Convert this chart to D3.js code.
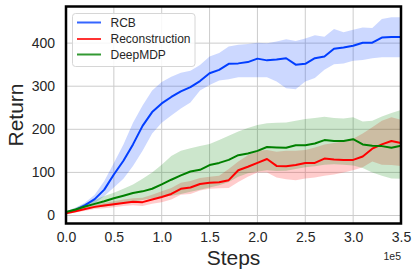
<!DOCTYPE html>
<html>
<head>
<meta charset="utf-8">
<script src="https://cdn.jsdelivr.net/npm/d3@7"></script>
<style>
  html, body { margin: 0; padding: 0; background: #fff; }
  svg { display: block; font-family: "Liberation Sans", Arial, sans-serif; }
</style>
</head>
<body>
<svg id="chart" width="418" height="279"></svg>
<script>
// ---- data ----
const steps = [0,10000,20000,30000,40000,50000,60000,70000,80000,90000,100000,110000,120000,130000,140000,150000,160000,170000,180000,190000,200000,210000,220000,230000,240000,250000,260000,270000,280000,290000,300000,310000,320000,330000,340000,350000];

const rcbMean  = [7,13,24,38,60,95,127,165,208,240,260,275,288,298,312,330,338,352,353,356,364,360,362,365,350,352,365,369,387,390,394,401,401,413,414,414];
const rcbUpper = [10,18,30,48,80,122,165,215,255,290,310,322,331,336,349,369,377,392,396,398,401,400,404,409,405,411,418,415,433,425,431,436,435,456,460,460];
const rcbLower = [4,10,18,28,45,65,85,115,150,190,215,232,248,262,290,303,313,316,321,321,321,321,311,295,293,311,319,338,351,353,359,361,365,367,367,367];

const recMean  = [5,10,15,20,23,26,29,32,31,37,43,50,62,65,73,76,77,82,105,113,122,131,115,114,117,122,122,132,130,129,129,137,155,165,173,168];
const recUpper = [7,13,19,25,29,33,37,40,41,48,56,64,76,80,87,90,92,108,125,140,150,152,148,150,150,152,158,165,168,172,178,190,205,220,228,222];
const recLower = [3,7,11,15,17,19,22,24,22,27,31,37,48,50,58,62,63,64,78,90,100,100,88,84,82,86,88,92,95,100,105,112,125,118,117,115];

const mdpMean  = [8,14,21,27,33,40,46,52,56,62,72,83,93,102,106,117,122,129,140,144,150,159,158,157,163,163,167,175,173,173,177,165,162,161,157,162];
const mdpUpper = [10,18,27,36,45,53,62,72,85,100,118,138,150,156,161,166,175,185,195,203,210,214,215,216,220,224,226,229,226,225,228,218,220,230,238,245];
const mdpLower = [6,10,15,18,21,24,28,32,36,40,43,46,50,55,60,65,70,78,90,98,102,105,103,104,108,112,114,118,119,118,116,110,100,92,86,85];

const seriesNames = ["RCB", "Reconstruction", "DeepMDP"];
const seriesColors = ["#023eff", "#ff0000", "#008000"];
const xTicks = [0, 50000, 100000, 150000, 200000, 250000, 300000, 350000];
const xTickLabels = ["0.0","0.5","1.0","1.5","2.0","2.5","3.0","3.5"];
const yTicks = [0, 100, 200, 300, 400];

// ---- layout ----
const svg = d3.select("#chart");
const L = 66, R = 401, T = 6.5, B = 223.5;
const x = d3.scaleLinear().domain([0, 350000]).range([L, R]);
const y = d3.scaleLinear().domain([-18.6, 485]).range([B, T]);

// grid
const grid = svg.append("g");
grid.selectAll("line.gx").data(xTicks).join("line")
  .attr("x1", d => x(d)).attr("x2", d => x(d))
  .attr("y1", T).attr("y2", B)
  .attr("stroke", "#cccccc").attr("stroke-width", 1);
grid.selectAll("line.gy").data(yTicks).join("line")
  .attr("x1", L).attr("x2", R)
  .attr("y1", d => y(d)).attr("y2", d => y(d))
  .attr("stroke", "#cccccc").attr("stroke-width", 1);

const series = [
  {name: seriesNames[0], color: seriesColors[0], mean: rcbMean, up: rcbUpper, lo: rcbLower},
  {name: seriesNames[1], color: seriesColors[1], mean: recMean, up: recUpper, lo: recLower},
  {name: seriesNames[2], color: seriesColors[2], mean: mdpMean, up: mdpUpper, lo: mdpLower}
];

const area = d3.area().x(d => x(d.s)).y0(d => y(d.lo)).y1(d => y(d.up));
const line = d3.line().x(d => x(d.s)).y(d => y(d.m));

const clip = svg.append("clipPath").attr("id", "clip").append("rect")
  .attr("x", L).attr("y", T).attr("width", R - L).attr("height", B - T);
const plot = svg.append("g").attr("clip-path", "url(#clip)");

series.forEach(sr => {
  const pts = steps.map((s, i) => ({s, m: sr.mean[i], up: sr.up[i], lo: sr.lo[i]}));
  plot.append("path").datum(pts).attr("d", area)
    .attr("fill", sr.color).attr("fill-opacity", 0.2).attr("stroke", "none");
});
series.forEach(sr => {
  const pts = steps.map((s, i) => ({s, m: sr.mean[i]}));
  plot.append("path").datum(pts).attr("d", line)
    .attr("fill", "none").attr("stroke", sr.color).attr("stroke-width", 2)
    .attr("stroke-linejoin", "round");
});

// axes (labels only, no tick marks)
const xAxis = d3.axisBottom(x).tickValues(xTicks).tickFormat((d, i) => xTickLabels[i]).tickSize(0).tickPadding(9);
const gx = svg.append("g").attr("transform", `translate(0,${B})`).call(xAxis);
gx.select(".domain").remove();
gx.selectAll("text").attr("font-size", 14).attr("fill", "#262626")
  .attr("font-family", "Liberation Sans, Arial, sans-serif");

const yAxis = d3.axisLeft(y).tickValues(yTicks).tickSize(0).tickPadding(11);
const gy = svg.append("g").attr("transform", `translate(${L},0)`).call(yAxis);
gy.select(".domain").remove();
gy.selectAll("text").attr("font-size", 14).attr("fill", "#262626")
  .attr("font-family", "Liberation Sans, Arial, sans-serif");

// frame
svg.append("rect").attr("x", L).attr("y", T).attr("width", R - L).attr("height", B - T)
  .attr("fill", "none").attr("stroke", "#000").attr("stroke-width", 2.5);

// axis titles
svg.append("text").attr("x", (L + R) / 2).attr("y", 265)
  .attr("text-anchor", "middle").attr("font-size", 21).attr("fill", "#262626").text("Steps");
svg.append("text").attr("transform", `translate(23,${(T + B) / 2}) rotate(-90)`)
  .attr("text-anchor", "middle").attr("font-size", 21).attr("fill", "#262626").text("Return");
svg.append("text").attr("x", R).attr("y", 260)
  .attr("text-anchor", "end").attr("font-size", 10.5).attr("fill", "#262626").text("1e5");

// legend
const lg = svg.append("g");
lg.append("rect").attr("x", 72.5).attr("y", 13.5).attr("width", 122.5).attr("height", 53)
  .attr("rx", 3).attr("fill", "#fff").attr("fill-opacity", 0.85)
  .attr("stroke", "#d6d6d6").attr("stroke-width", 1);
const rowY = [22.5, 39, 54.5];
series.forEach((sr, i) => {
  lg.append("line").attr("x1", 77).attr("x2", 101).attr("y1", rowY[i]).attr("y2", rowY[i])
    .attr("stroke", sr.color).attr("stroke-width", 2).attr("stroke-opacity", 0.8);
  lg.append("text").attr("x", 110.5).attr("y", rowY[i]).attr("dy", "0.35em")
    .attr("font-size", 12).attr("fill", "#262626").text(sr.name);
});
</script>
</body>
</html>
